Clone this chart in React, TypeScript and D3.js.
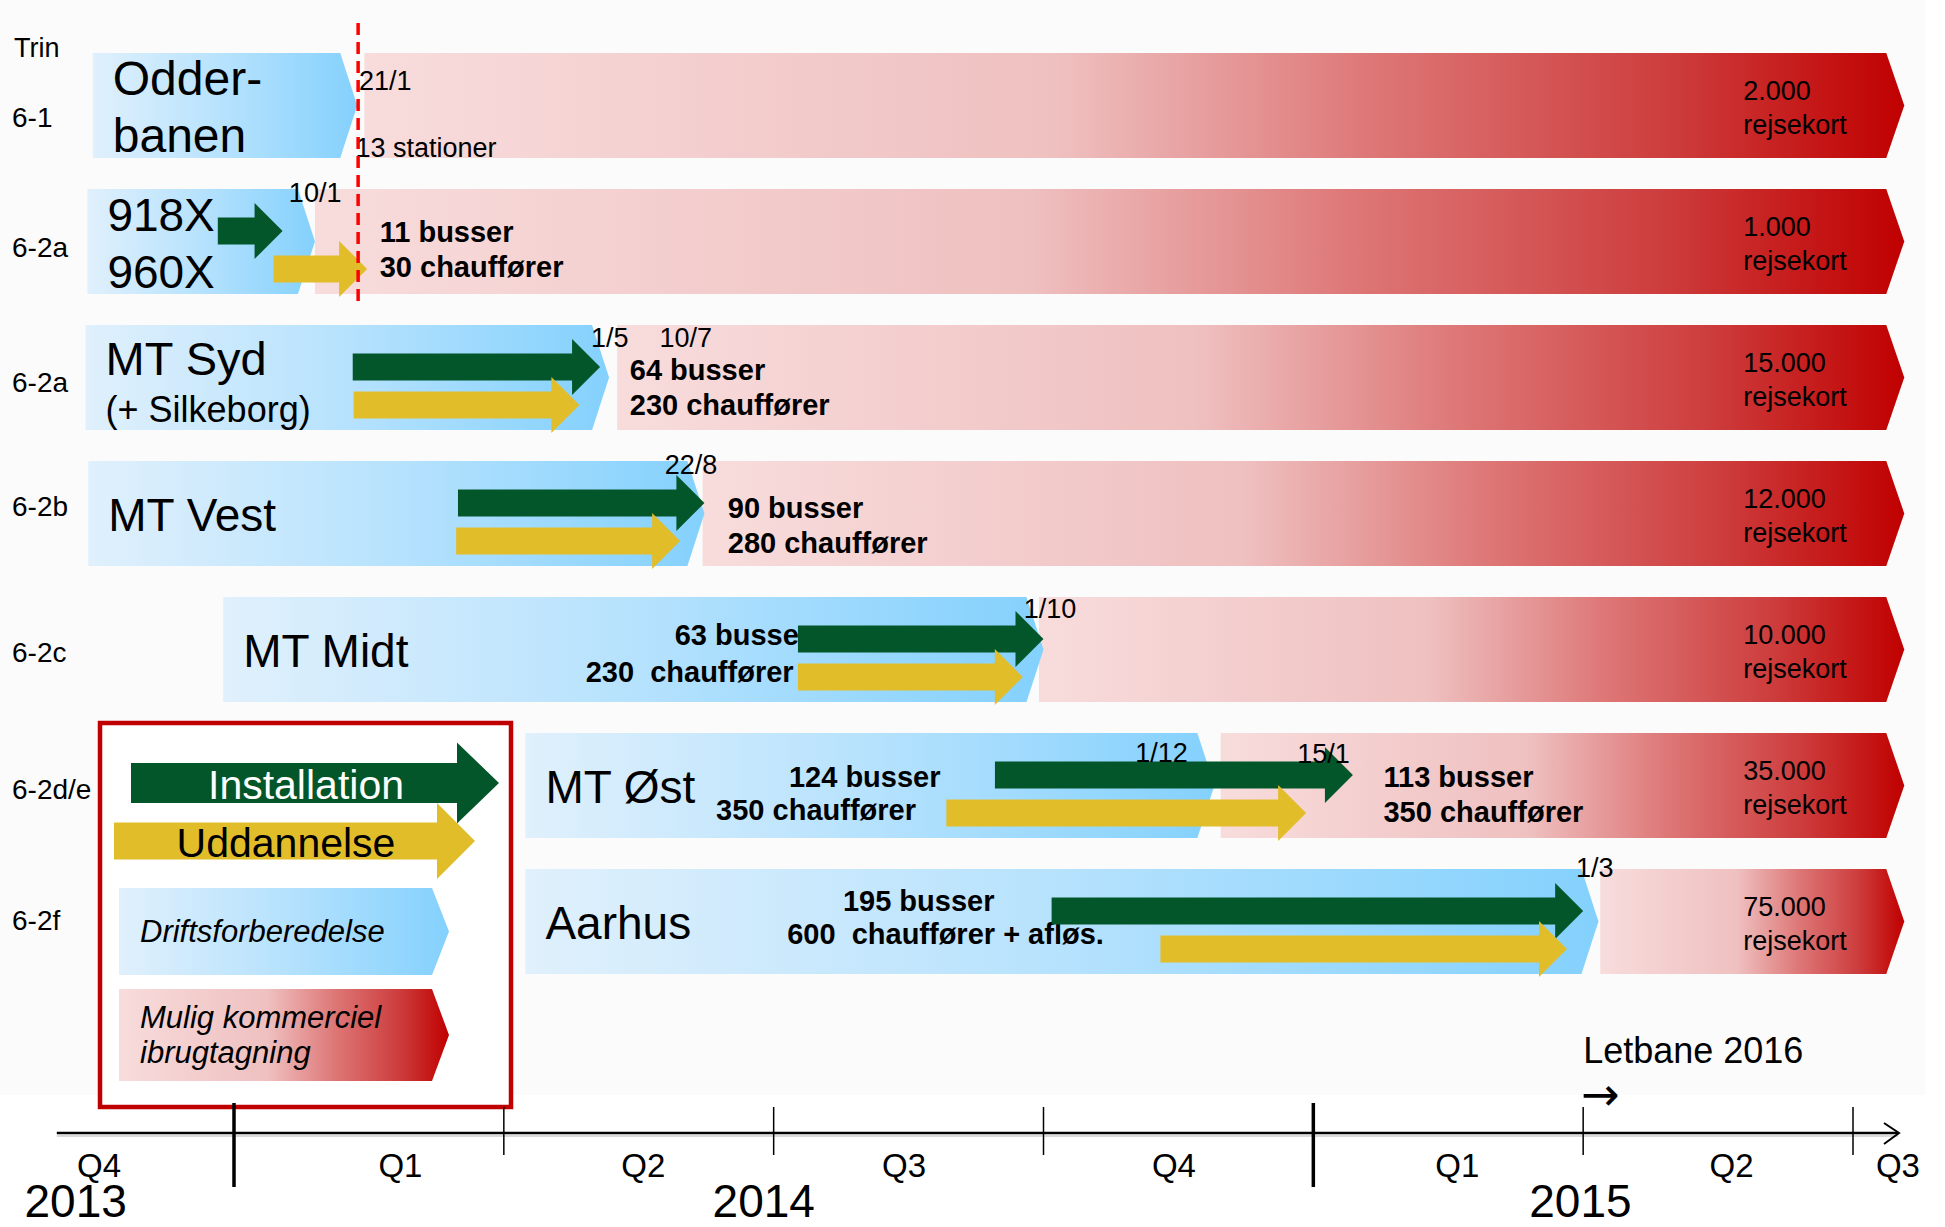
import React from "react";
import * as d3 from "d3";

// ---------- DATA (timeline unit: months since 1 Oct 2013) ----------
const rowIds = ["6-1", "6-2a", "6-2a", "6-2b", "6-2c", "6-2d/e", "6-2f"];
const rowNames = [["Odder-", "banen"], ["918X", "960X"], ["MT Syd", "(+ Silkeborg)"], ["MT Vest"], ["MT Midt"], ["MT Øst"], ["Aarhus"]];
const prepStart = [1.43, 1.37, 1.35, 1.38, 2.88, 6.24, 6.24];
const prepEnd = [4.37, 3.9, 7.17, 8.23, 12.0, 13.9, 18.17];
const goLive = [4.45, 3.9, 7.26, 8.21, 11.95, 13.97, 18.19];
const commercialEnd = [21.57, 21.57, 21.57, 21.57, 21.57, 21.57, 21.57];
const installStart = [NaN, 2.82, 4.32, 5.49, 9.27, 11.46, 12.09];
const installEnd = [NaN, 3.54, 7.07, 8.23, 12.0, 15.44, 18.0];
const trainStart = [NaN, 3.44, 4.33, 5.47, 9.27, 10.92, 13.3];
const trainEnd = [NaN, 4.48, 6.84, 7.96, 11.77, 14.92, 17.82];
const travelCards = ["2.000", "1.000", "15.000", "12.000", "10.000", "35.000", "75.000"];
const cardUnit = "rejsekort";

const dateLabelRow = [0, 1, 2, 2, 3, 4, 5, 5, 6];
const dateLabelText = ["21/1", "10/1", "1/5", "10/7", "22/8", "1/10", "1/12", "15/1", "1/3"];
const dateLabelAt = [4.39, 3.61, 6.97, 7.73, 7.79, 11.78, 13.02, 14.82, 17.92];

const goLiveNoteRow = [0, 1, 1, 2, 2, 3, 3, 5, 5];
const goLiveNoteText = ["13 stationer", "11 busser", "30 chauffører", "64 busser", "230 chauffører", "90 busser", "280 chauffører", "113 busser", "350 chauffører"];
const goLiveNoteAt = [4.35, 4.62, 4.62, 7.4, 7.4, 8.49, 8.49, 15.78, 15.78];

const prepNoteRow = [4, 4, 5, 5, 6, 6];
const prepNoteText = ["63 busser", "230  chauffører", "124 busser", "350 chauffører", "195 busser", "600  chauffører + afløs."];
const prepNoteAt = [7.9, 6.91, 9.17, 8.36, 9.77, 9.15];

const cutoverAt = 4.38; // red dashed line
const axisTicks = [3, 6, 9, 12, 15, 18, 21];
const yearTicks = [3, 15];
const quarterLabels = ["Q4", "Q1", "Q2", "Q3", "Q4", "Q1", "Q2", "Q3"];
const quarterAt = [1.5, 4.85, 7.55, 10.45, 13.45, 16.6, 19.65, 21.5];
const yearLabels = ["2013", "2014", "2015"];
const yearAt = [1.24, 8.89, 17.97];
const letbaneAt = 18.0;

const legendLabels = ["Installation", "Uddannelse", "Driftsforberedelse", "Mulig kommerciel", "ibrugtagning"];

// ---------- LAYOUT ----------
const W = 1945, H = 1227;
const FONT = "'Liberation Sans', Arial, Helvetica, sans-serif";
const GREEN = "#03562a";
const YELLOW = "#e1bd2a";
const RED = "#c00000";

const x = d3.scaleLinear().domain([3, 21]).range([234, 1853]);
const y = d3.scaleBand<number>().domain(d3.range(7)).range([53, 974]).paddingInner(0.228).paddingOuter(0);

const labelDy = [74, 68, 67, 55, 65, 66, 61];
const dateDy = [37, 13, 22, 22, 13, 21, 29, 30, 8];
const noteDy = [104, 53, 88, 55, 90, 57, 92, 54, 89];
const prepDy = [48, 85, 54, 87, 42, 75];
const yearBase = [1217, 1217, 1217];

function chevron(x0: number, x1: number, y0: number, y1: number, depth: number) {
  const p = d3.path();
  p.moveTo(x0, y0);
  p.lineTo(x1 - depth, y0);
  p.lineTo(x1, (y0 + y1) / 2);
  p.lineTo(x1 - depth, y1);
  p.lineTo(x0, y1);
  p.closePath();
  return p.toString();
}

function arrow(xs: number, xt: number, cy: number, shaft: number, head: number, hl: number) {
  const p = d3.path();
  p.moveTo(xs, cy - shaft / 2);
  p.lineTo(xt - hl, cy - shaft / 2);
  p.lineTo(xt - hl, cy - head / 2);
  p.lineTo(xt, cy);
  p.lineTo(xt - hl, cy + head / 2);
  p.lineTo(xt - hl, cy + shaft / 2);
  p.lineTo(xs, cy + shaft / 2);
  p.closePath();
  return p.toString();
}

export default function App() {
  const bw = y.bandwidth();
  const rows = d3.range(7);
  return (
    <svg width={W} height={H} style={{ position: "absolute", left: 0, top: 0, background: "#fff" }} fontFamily={FONT}>
      <defs>
        <linearGradient id="blueGrad" x1="0" x2="1" y1="0" y2="0">
          <stop offset="0" stopColor="#e0f0fc" />
          <stop offset="0.5" stopColor="#b6e2fd" />
          <stop offset="1" stopColor="#84d1fd" />
        </linearGradient>
        <linearGradient id="pinkGrad" x1="0" x2="1" y1="0" y2="0">
          <stop offset="0" stopColor="#f8dcdc" />
          <stop offset="0.45" stopColor="#efc0c0" />
          <stop offset="0.65" stopColor="#de7878" />
          <stop offset="0.85" stopColor="#cd3c3c" />
          <stop offset="1" stopColor="#c00000" />
        </linearGradient>
      </defs>
      <rect x={0} y={0} width={1925} height={1095} fill="#fbfbfb" />

      <text x={14} y={57} fontSize={27}>Trin</text>

      {rows.map((i) => {
        const top = y(i)!;
        const bot = top + bw;
        return (
          <g key={"row" + i}>
            <text x={12} y={top + labelDy[i]} fontSize={28}>{rowIds[i]}</text>
            <path d={chevron(x(goLive[i]), x(commercialEnd[i]), top, bot, 18)} fill="url(#pinkGrad)" />
            <path d={chevron(x(prepStart[i]), x(prepEnd[i]), top, bot, 17)} fill="url(#blueGrad)" />
            {rowNames[i].length === 1 ? (
              <text x={x(prepStart[i]) + 20} y={top + 70} fontSize={46}>{rowNames[i][0]}</text>
            ) : i === 2 ? (
              <g>
                <text x={x(prepStart[i]) + 20} y={top + 50} fontSize={47}>{rowNames[i][0]}</text>
                <text x={x(prepStart[i]) + 20} y={top + 97} fontSize={36}>{rowNames[i][1]}</text>
              </g>
            ) : (
              <g>
                <text x={x(prepStart[i]) + 20} y={top + 42} fontSize={i === 0 ? 48 : 46}>{rowNames[i][0]}</text>
                <text x={x(prepStart[i]) + 20} y={top + 99} fontSize={i === 0 ? 48 : 46}>{rowNames[i][1]}</text>
              </g>
            )}
            <text x={x(19.78)} y={top + 47} fontSize={27}>{travelCards[i]}</text>
            <text x={x(19.78)} y={top + 81} fontSize={27}>{cardUnit}</text>
          </g>
        );
      })}

      {prepNoteText.map((t, k) => (
        <text key={"pn" + k} x={x(prepNoteAt[k])} y={y(prepNoteRow[k])! + prepDy[k]} fontSize={29} fontWeight="bold" style={{ whiteSpace: "pre" }}>{t}</text>
      ))}
      {goLiveNoteText.map((t, k) => (
        <text key={"gn" + k} x={x(goLiveNoteAt[k])} y={y(goLiveNoteRow[k])! + noteDy[k]} fontSize={k === 0 ? 27 : 29} fontWeight={k === 0 ? "normal" : "bold"}>{t}</text>
      ))}

      {rows.filter((i) => !isNaN(installStart[i])).map((i) => {
        const top = y(i)!;
        return (
          <g key={"ar" + i}>
            <path d={arrow(x(installStart[i]), x(installEnd[i]), top + 42, 27, 56, 28)} fill={GREEN} />
            <path d={arrow(x(trainStart[i]), x(trainEnd[i]), top + 80, 27, 56, 28)} fill={YELLOW} />
          </g>
        );
      })}

      {dateLabelText.map((t, k) => (
        <text key={"dl" + k} x={x(dateLabelAt[k])} y={y(dateLabelRow[k])! + dateDy[k]} fontSize={27}>{t}</text>
      ))}

      <line x1={x(cutoverAt)} x2={x(cutoverAt)} y1={23} y2={306} stroke="#ff0000" strokeWidth={3.5} strokeDasharray="12 7" />

      {/* legend */}
      <rect x={100} y={723} width={411} height={384} fill="#fff" stroke={RED} strokeWidth={4.5} />
      <path d={arrow(131, 499, 783, 40, 81, 42)} fill={GREEN} />
      <text x={306} y={799} fontSize={41} fill="#fff" textAnchor="middle">{legendLabels[0]}</text>
      <path d={arrow(114, 475, 841, 37, 76, 38)} fill={YELLOW} />
      <text x={286} y={857} fontSize={41} textAnchor="middle">{legendLabels[1]}</text>
      <path d={chevron(119, 449, 888, 975, 17)} fill="url(#blueGrad)" />
      <text x={140} y={942} fontSize={31} fontStyle="italic">{legendLabels[2]}</text>
      <path d={chevron(119, 449, 989, 1081, 17)} fill="url(#pinkGrad)" />
      <text x={140} y={1028} fontSize={31} fontStyle="italic">{legendLabels[3]}</text>
      <text x={140} y={1063} fontSize={31} fontStyle="italic">{legendLabels[4]}</text>

      {/* Letbane */}
      <text x={x(letbaneAt)} y={1063} fontSize={36}>Letbane 2016</text>
      <text x={x(letbaneAt) - 2} y={1110} fontSize={46} fontFamily="'DejaVu Sans', sans-serif">→</text>

      {/* axis */}
      <line x1={x(1.03)} x2={1898} y1={1133} y2={1133} stroke="#000" strokeWidth={2.5} />
      <line x1={x(1.03)} x2={1898} y1={1136} y2={1136} stroke="#ccc" strokeWidth={1.5} />
      <path d="M1884,1123 L1899,1133 L1884,1144" fill="none" stroke="#000" strokeWidth={2} />
      {axisTicks.map((t) => {
        const major = yearTicks.includes(t);
        return (
          <line key={"t" + t} x1={x(t)} x2={x(t)} y1={major ? 1103 : 1107} y2={major ? 1187 : 1155} stroke="#000" strokeWidth={major ? 3.5 : 1.5} />
        );
      })}
      {quarterLabels.map((q, k) => (
        <text key={"q" + k} x={x(quarterAt[k])} y={1177} fontSize={33} textAnchor="middle">{q}</text>
      ))}
      {yearLabels.map((yl, k) => (
        <text key={"y" + k} x={x(yearAt[k])} y={yearBase[k] + (k === 1 ? 0 : 0)} fontSize={46} textAnchor="middle">{yl}</text>
      ))}
    </svg>
  );
}
